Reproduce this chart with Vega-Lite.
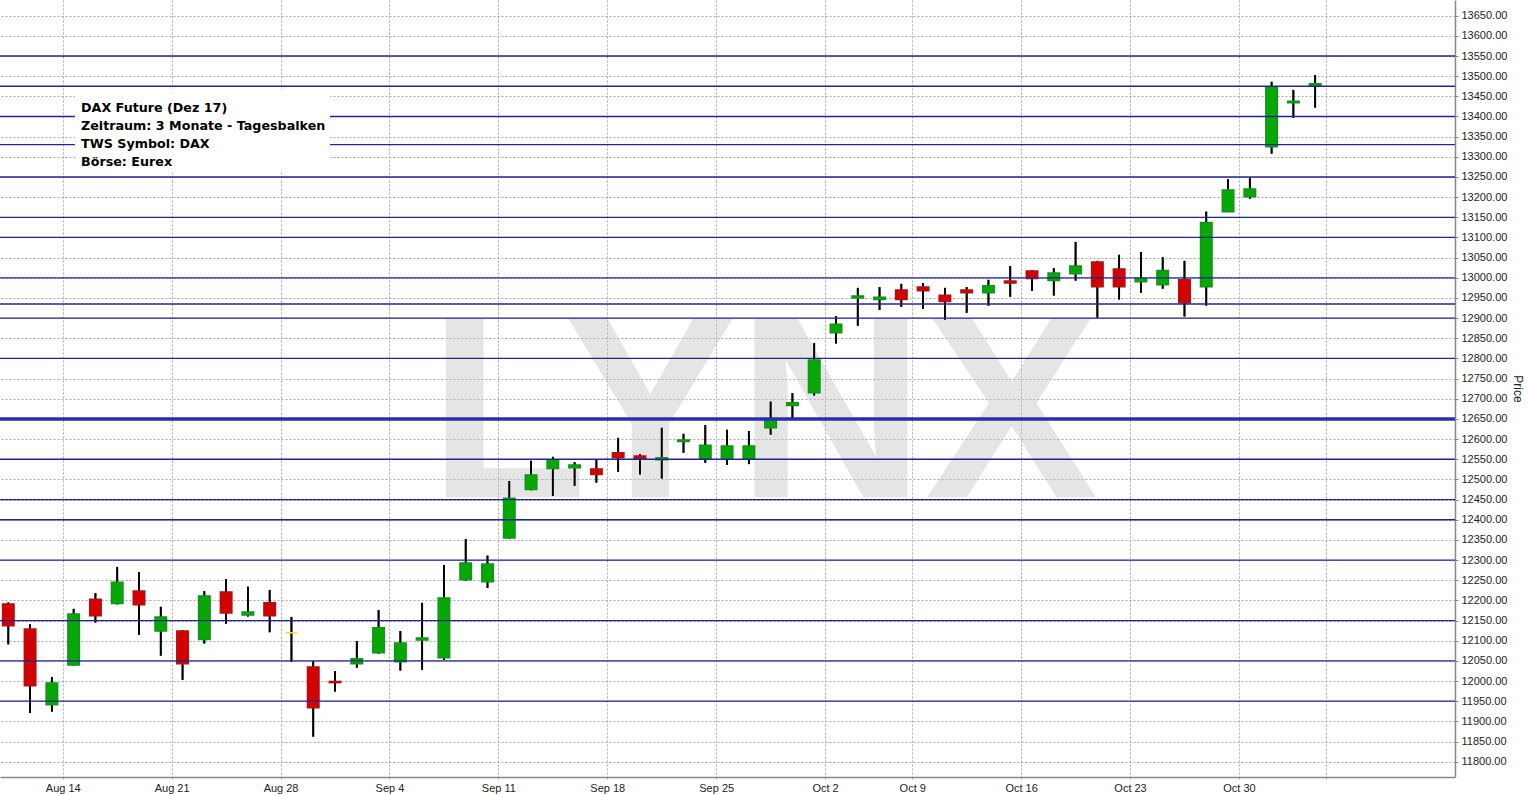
{
  "$schema": "https://vega.github.io/schema/vega-lite/v6.json",
  "width": 1455,
  "height": 777,
  "autosize": {"type": "none"},
  "padding": {"left": 0, "top": 0, "right": 74, "bottom": 18},
  "background": "white",
  "config": {"view": {"stroke": null}, "scale": {"continuousPadding": 0}, "axis": {"labelOverlap": false}},
  "datasets": {
    "candles": [
      {"d": "2017-08-09", "i": 0, "o": 12191, "h": 12195, "l": 12091, "c": 12137},
      {"d": "2017-08-10", "i": 1, "o": 12129, "h": 12141, "l": 11921, "c": 11988},
      {"d": "2017-08-11", "i": 2, "o": 11941, "h": 12010, "l": 11924, "c": 11995},
      {"d": "2017-08-14", "i": 3, "o": 12040, "h": 12179, "l": 12038, "c": 12166},
      {"d": "2017-08-15", "i": 4, "o": 12203, "h": 12218, "l": 12145, "c": 12162},
      {"d": "2017-08-16", "i": 5, "o": 12192, "h": 12283, "l": 12190, "c": 12245},
      {"d": "2017-08-17", "i": 6, "o": 12223, "h": 12270, "l": 12115, "c": 12189},
      {"d": "2017-08-18", "i": 7, "o": 12124, "h": 12184, "l": 12063, "c": 12159},
      {"d": "2017-08-21", "i": 8, "o": 12124, "h": 12126, "l": 12003, "c": 12043},
      {"d": "2017-08-22", "i": 9, "o": 12103, "h": 12223, "l": 12093, "c": 12211},
      {"d": "2017-08-23", "i": 10, "o": 12221, "h": 12253, "l": 12142, "c": 12169},
      {"d": "2017-08-24", "i": 11, "o": 12164, "h": 12234, "l": 12160, "c": 12171},
      {"d": "2017-08-25", "i": 12, "o": 12194, "h": 12226, "l": 12121, "c": 12162},
      {"d": "2017-08-28", "i": 13, "o": 12120, "h": 12159, "l": 12048, "c": 12120},
      {"d": "2017-08-29", "i": 14, "o": 12035, "h": 12049, "l": 11862, "c": 11934},
      {"d": "2017-08-30", "i": 15, "o": 11999, "h": 12025, "l": 11974, "c": 11996},
      {"d": "2017-08-31", "i": 16, "o": 12043, "h": 12099, "l": 12033, "c": 12055},
      {"d": "2017-09-01", "i": 17, "o": 12070, "h": 12176, "l": 12068, "c": 12132},
      {"d": "2017-09-04", "i": 18, "o": 12048, "h": 12124, "l": 12026, "c": 12094},
      {"d": "2017-09-05", "i": 19, "o": 12102, "h": 12194, "l": 12028, "c": 12107},
      {"d": "2017-09-06", "i": 20, "o": 12058, "h": 12288, "l": 12052, "c": 12206},
      {"d": "2017-09-07", "i": 21, "o": 12251, "h": 12352, "l": 12248, "c": 12293},
      {"d": "2017-09-08", "i": 22, "o": 12246, "h": 12311, "l": 12231, "c": 12290},
      {"d": "2017-09-11", "i": 23, "o": 12355, "h": 12496, "l": 12353, "c": 12453},
      {"d": "2017-09-12", "i": 24, "o": 12475, "h": 12546, "l": 12473, "c": 12511},
      {"d": "2017-09-13", "i": 25, "o": 12527, "h": 12556, "l": 12459, "c": 12549},
      {"d": "2017-09-14", "i": 26, "o": 12529, "h": 12543, "l": 12484, "c": 12536},
      {"d": "2017-09-15", "i": 27, "o": 12526, "h": 12548, "l": 12492, "c": 12512},
      {"d": "2017-09-18", "i": 28, "o": 12566, "h": 12603, "l": 12519, "c": 12554},
      {"d": "2017-09-19", "i": 29, "o": 12558, "h": 12563, "l": 12512, "c": 12551},
      {"d": "2017-09-20", "i": 30, "o": 12549, "h": 12628, "l": 12502, "c": 12554},
      {"d": "2017-09-21", "i": 31, "o": 12594, "h": 12613, "l": 12566, "c": 12598},
      {"d": "2017-09-22", "i": 32, "o": 12551, "h": 12635, "l": 12541, "c": 12585},
      {"d": "2017-09-25", "i": 33, "o": 12551, "h": 12623, "l": 12536, "c": 12583},
      {"d": "2017-09-26", "i": 34, "o": 12551, "h": 12620, "l": 12538, "c": 12583},
      {"d": "2017-09-27", "i": 35, "o": 12628, "h": 12693, "l": 12611, "c": 12647},
      {"d": "2017-09-28", "i": 36, "o": 12683, "h": 12714, "l": 12652, "c": 12690},
      {"d": "2017-09-29", "i": 37, "o": 12715, "h": 12838, "l": 12708, "c": 12796},
      {"d": "2017-10-02", "i": 38, "o": 12864, "h": 12905, "l": 12837, "c": 12885},
      {"d": "2017-10-04", "i": 39, "o": 12950, "h": 12975, "l": 12881, "c": 12955},
      {"d": "2017-10-05", "i": 40, "o": 12946, "h": 12977, "l": 12920, "c": 12952},
      {"d": "2017-10-06", "i": 41, "o": 12970, "h": 12985, "l": 12928, "c": 12946},
      {"d": "2017-10-09", "i": 42, "o": 12977, "h": 12987, "l": 12923, "c": 12968},
      {"d": "2017-10-10", "i": 43, "o": 12957, "h": 12975, "l": 12896, "c": 12941},
      {"d": "2017-10-11", "i": 44, "o": 12970, "h": 12977, "l": 12913, "c": 12963},
      {"d": "2017-10-12", "i": 45, "o": 12963, "h": 12995, "l": 12931, "c": 12980},
      {"d": "2017-10-13", "i": 46, "o": 12992, "h": 13029, "l": 12953, "c": 12987},
      {"d": "2017-10-16", "i": 47, "o": 13017, "h": 13019, "l": 12968, "c": 12998},
      {"d": "2017-10-17", "i": 48, "o": 12993, "h": 13024, "l": 12956, "c": 13012},
      {"d": "2017-10-18", "i": 49, "o": 13010, "h": 13089, "l": 12993, "c": 13029},
      {"d": "2017-10-19", "i": 50, "o": 13039, "h": 13042, "l": 12901, "c": 12978},
      {"d": "2017-10-20", "i": 51, "o": 13022, "h": 13057, "l": 12946, "c": 12978},
      {"d": "2017-10-23", "i": 52, "o": 12990, "h": 13064, "l": 12963, "c": 12998},
      {"d": "2017-10-24", "i": 53, "o": 12983, "h": 13051, "l": 12973, "c": 13018},
      {"d": "2017-10-25", "i": 54, "o": 12995, "h": 13042, "l": 12904, "c": 12938},
      {"d": "2017-10-26", "i": 55, "o": 12978, "h": 13164, "l": 12931, "c": 13137},
      {"d": "2017-10-27", "i": 56, "o": 13164, "h": 13245, "l": 13163, "c": 13218},
      {"d": "2017-10-30", "i": 57, "o": 13201, "h": 13248, "l": 13196, "c": 13220},
      {"d": "2017-11-01", "i": 58, "o": 13325, "h": 13486, "l": 13308, "c": 13474},
      {"d": "2017-11-02", "i": 59, "o": 13434, "h": 13466, "l": 13397, "c": 13438},
      {"d": "2017-11-03", "i": 60, "o": 13476, "h": 13503, "l": 13422, "c": 13481}
    ],
    "levels": [
      {"level": 13550, "main": false}, {"level": 13475, "main": false}, {"level": 13400, "main": false},
      {"level": 13330, "main": false}, {"level": 13250, "main": false}, {"level": 13150, "main": false},
      {"level": 13100, "main": false}, {"level": 13000, "main": false}, {"level": 12935, "main": false},
      {"level": 12900, "main": false}, {"level": 12800, "main": false}, {"level": 12650, "main": true},
      {"level": 12550, "main": false}, {"level": 12450, "main": false}, {"level": 12400, "main": false},
      {"level": 12300, "main": false}, {"level": 12150, "main": false}, {"level": 12050, "main": false},
      {"level": 11950, "main": false}
    ]
  },
  "layer": [
    {
      "data": {"name": "candles"},
      "mark": {"type": "rule", "color": "#000000", "strokeWidth": 1.8},
      "encoding": {
        "x": {
          "field": "i", "type": "quantitative",
          "scale": {"domain": [-0.381, 66.42], "nice": false, "zero": false, "padding": 0},
          "axis": {
            "orient": "bottom", "title": null, "tickCount": 60,
            "values": [2.5, 7.5, 12.5, 17.5, 22.5, 27.5, 32.5, 37.5, 41.5, 46.5, 51.5, 56.5, 60.5],
            "labelExpr": "datum.value==2.5?'Aug 14':datum.value==7.5?'Aug 21':datum.value==12.5?'Aug 28':datum.value==17.5?'Sep 4':datum.value==22.5?'Sep 11':datum.value==27.5?'Sep 18':datum.value==32.5?'Sep 25':datum.value==37.5?'Oct 2':datum.value==41.5?'Oct 9':datum.value==46.5?'Oct 16':datum.value==51.5?'Oct 23':datum.value==56.5?'Oct 30':''",
            "grid": true, "gridColor": "#a8a8a8", "gridDash": [2, 2], "gridWidth": 1,
            "domainColor": "#888888", "domainWidth": 1.5,
            "ticks": true, "tickSize": 4, "tickColor": "#a8a8a8", "tickDash": [2, 2],
            "labelFont": "Liberation Sans", "labelFontSize": 11, "labelColor": "#222222",
            "labelPadding": 1, "labelFlush": false, "labelOverlap": false
          }
        },
        "y": {
          "field": "l", "type": "quantitative",
          "scale": {"domain": [11762, 13688.9], "nice": false, "zero": false, "padding": 0},
          "axis": {
            "orient": "right", "title": "Price", "tickCount": 60,
            "values": [11800, 11850, 11900, 11950, 12000, 12050, 12100, 12150, 12200, 12250, 12300, 12350, 12400, 12450, 12500, 12550, 12600, 12650, 12700, 12750, 12800, 12850, 12900, 12950, 13000, 13050, 13100, 13150, 13200, 13250, 13300, 13350, 13400, 13450, 13500, 13550, 13600, 13650],
            "format": ".2f", "labelOverlap": false,
            "grid": true, "gridColor": "#a8a8a8", "gridDash": [2, 2], "gridWidth": 1,
            "domainColor": "#888888", "domainWidth": 1.5,
            "ticks": true, "tickSize": 3, "tickColor": "#888888",
            "labelFont": "Liberation Sans", "labelFontSize": 11, "labelColor": "#222222", "labelPadding": 3,
            "titleFont": "Liberation Sans", "titleFontSize": 12, "titleFontWeight": "normal", "titleColor": "#222222", "titlePadding": 4
          }
        },
        "y2": {"field": "h"}
      }
    },
    {
      "data": {"values": [{"label": "LYNX"}]},
      "mark": {"type": "text", "font": "Liberation Sans", "fontWeight": "bold", "fontSize": 260, "align": "center", "baseline": "alphabetic", "fill": "#bfbfbf", "opacity": 0.4},
      "encoding": {
        "text": {"field": "label"},
        "x": {"datum": 34.67, "type": "quantitative"},
        "y": {"datum": 12456, "type": "quantitative"}
      }
    },
    {
      "data": {"name": "candles"},
      "mark": {"type": "rule", "color": "#000000", "strokeWidth": 1.8},
      "encoding": {
        "x": {"field": "i", "type": "quantitative"},
        "y": {"field": "l", "type": "quantitative"},
        "y2": {"field": "h"}
      }
    },
    {
      "data": {"name": "candles"},
      "mark": {"type": "bar", "size": 11.5, "strokeWidth": 1.5},
      "encoding": {
        "x": {"field": "i", "type": "quantitative"},
        "y": {"field": "o", "type": "quantitative"},
        "y2": {"field": "c"},
        "fill": {"condition": [{"test": "datum.c > datum.o", "value": "#05a805"}, {"test": "datum.c < datum.o", "value": "#d40000"}], "value": "#ffff22"},
        "stroke": {"condition": [{"test": "datum.c > datum.o", "value": "#12931a"}, {"test": "datum.c < datum.o", "value": "#b01212"}], "value": "#f0e020"}
      }
    },
    {
      "data": {"name": "levels"},
      "mark": {"type": "rule"},
      "encoding": {
        "y": {"field": "level", "type": "quantitative"},
        "color": {"condition": {"test": "datum.main", "value": "#2c2cb0"}, "value": "#24248c"},
        "strokeWidth": {"condition": {"test": "datum.main", "value": 3.5}, "value": 1.3}
      }
    },
    {
      "data": {"values": [{}]},
      "mark": {"type": "rect", "fill": "#ffffff"},
      "encoding": {
        "x": {"datum": 3.06, "type": "quantitative"},
        "x2": {"datum": 14.77},
        "y": {"datum": 13468, "type": "quantitative"},
        "y2": {"datum": 13262}
      }
    },
    {
      "data": {"values": [{"note": ["DAX Future (Dez 17)", "Zeitraum: 3 Monate - Tagesbalken", "TWS Symbol: DAX", "Börse: Eurex"]}]},
      "mark": {"type": "text", "font": "DejaVu Sans", "fontWeight": "bold", "fontSize": 12.7, "lineHeight": 18, "align": "left", "baseline": "alphabetic", "fill": "#000000"},
      "encoding": {
        "text": {"field": "note"},
        "x": {"datum": 3.34, "type": "quantitative"},
        "y": {"datum": 13411, "type": "quantitative"}
      }
    }
  ]
}
